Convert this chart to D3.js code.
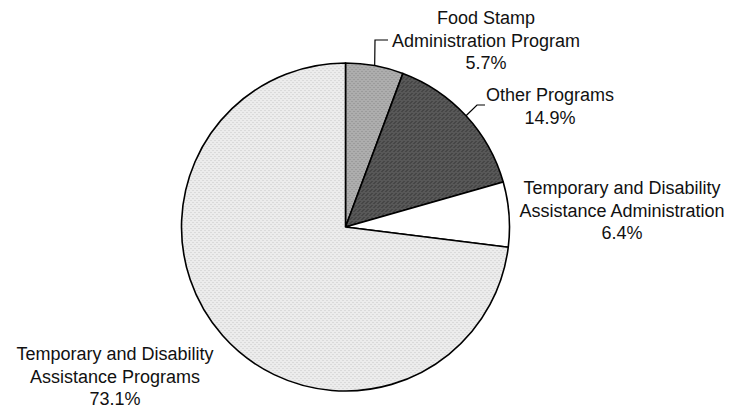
<!DOCTYPE html>
<html>
<head>
<meta charset="utf-8">
<script src="https://cdn.jsdelivr.net/npm/d3@7"></script>
<style>
  html, body { margin: 0; padding: 0; background: #fff; }
  svg { display: block; }
  text { font-family: "Liberation Sans", Arial, sans-serif; font-size: 18px; fill: #111; }
</style>
</head>
<body>
<svg id="chart" width="735" height="411"></svg>
<script>
// ---- data ----
const categories = [
  "Food Stamp Administration Program",
  "Other Programs",
  "Temporary and Disability Assistance Administration",
  "Temporary and Disability Assistance Programs"
];
const labelLines = [
  ["Food Stamp", "Administration Program"],
  ["Other Programs"],
  ["Temporary and Disability", "Assistance Administration"],
  ["Temporary and Disability", "Assistance Programs"]
];
const values = [5.7, 14.9, 6.4, 73.1];
const valueLabels = ["5.7%", "14.9%", "6.4%", "73.1%"];

// ---- layout / style ----
const W = 735, H = 411;
const cx = 345.5, cy = 227, R = 164;
const fills = ["#adadad", "#585858", "#ffffff", "#ececec"];
const labelAnchor = [[486, 24], [550, 101], [622, 194], [115, 360]];
const lineGap = 22.6;
// leader elbows: [elbow, end] for slices that have leaders
const leaders = { 0: [[375, 40], [388, 40]], 1: [[477, 105], [485, 105]] };

const svg = d3.select("#chart");

// stipple pattern for texture
const defs = svg.append("defs");
function stipple(id, base, dot, density) {
  const p = defs.append("pattern").attr("id", id)
    .attr("patternUnits", "userSpaceOnUse").attr("width", 4).attr("height", 4);
  p.append("rect").attr("width", 4).attr("height", 4).attr("fill", base);
  density.forEach(([x, y]) => p.append("rect").attr("x", x).attr("y", y)
    .attr("width", 1).attr("height", 1).attr("fill", dot));
  return `url(#${id})`;
}
const patFills = [
  stipple("p0", fills[0], "#888", [[0,0],[2,2]]),
  stipple("p1", fills[1], "#333", [[0,0],[2,2],[1,3]]),
  fills[2],
  stipple("p3", fills[3], "#c8c8c8", [[1,1],[3,3]])
];

const pie = d3.pie().sort(null).value(d => d).startAngle(0).endAngle(2 * Math.PI);
const arcs = pie(values);
const arc = d3.arc().innerRadius(0).outerRadius(R);

const g = svg.append("g").attr("transform", `translate(${cx},${cy})`);
g.selectAll("path.slice").data(arcs).enter().append("path")
  .attr("class", "slice")
  .attr("d", arc)
  .attr("fill", (d, i) => patFills[i])
  .attr("stroke", "#000")
  .attr("stroke-width", 1.6)
  .attr("stroke-linejoin", "round");

// leader lines
arcs.forEach((d, i) => {
  if (!leaders[i]) return;
  const a = (d.startAngle + d.endAngle) / 2;
  const p0 = [cx + R * Math.sin(a), cy - R * Math.cos(a)];
  const pts = [p0].concat(leaders[i]);
  svg.append("path")
    .attr("d", d3.line()(pts))
    .attr("fill", "none")
    .attr("stroke", "#000")
    .attr("stroke-width", 1.2);
});

// labels
categories.forEach((c, i) => {
  const lines = labelLines[i].concat([valueLabels[i]]);
  const t = svg.append("text")
    .attr("text-anchor", "middle")
    .attr("x", labelAnchor[i][0])
    .attr("y", labelAnchor[i][1]);
  lines.forEach((ln, k) => {
    t.append("tspan").attr("x", labelAnchor[i][0])
      .attr("dy", k === 0 ? 0 : lineGap).text(ln);
  });
});
</script>
</body>
</html>
